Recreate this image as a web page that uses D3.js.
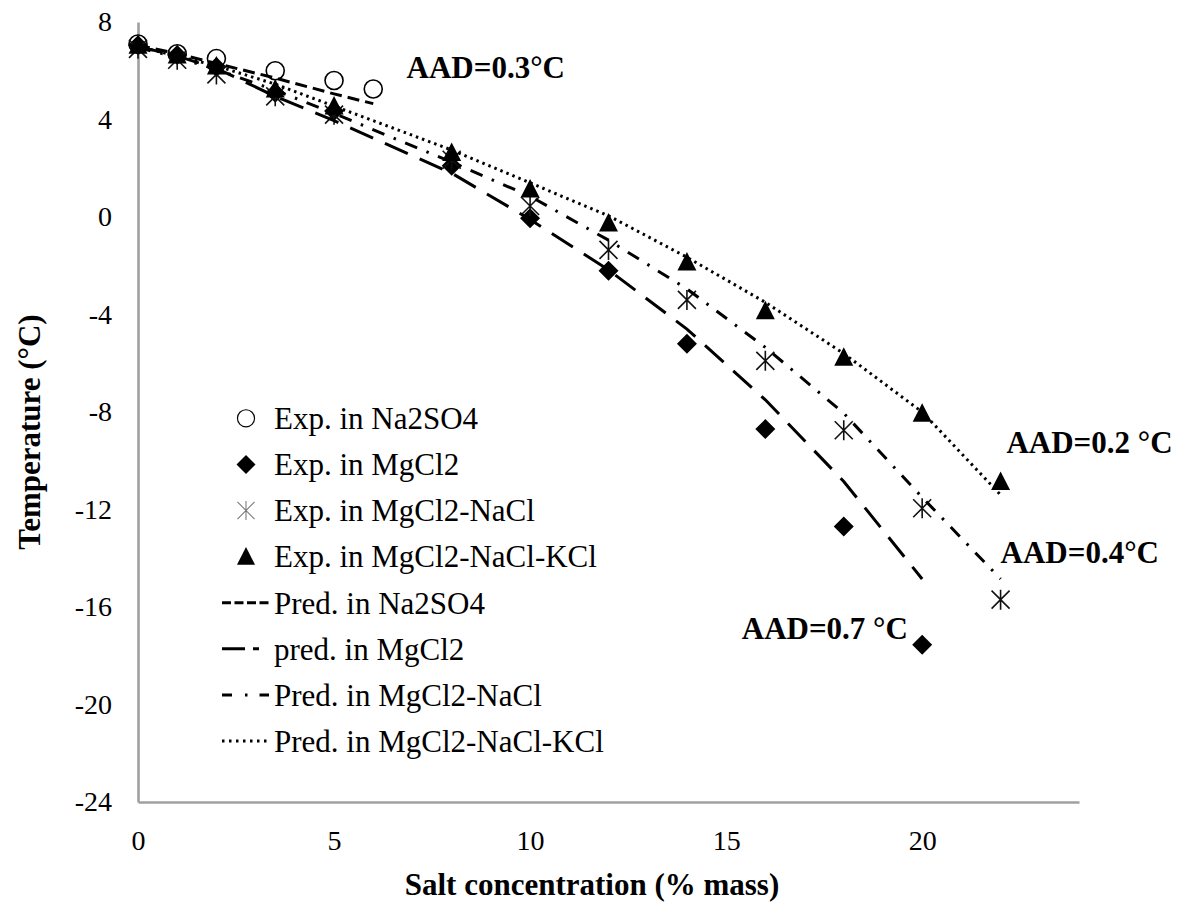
<!DOCTYPE html>
<html>
<head>
<meta charset="utf-8">
<script src="https://cdn.jsdelivr.net/npm/d3@7"></script>
<style>
  html, body { margin: 0; padding: 0; background: #fff; }
  svg { display: block; }
  svg text { font-family: "Liberation Serif", "Tinos", "Times New Roman", "DejaVu Serif", serif !important; fill: #000; }
</style>
</head>
<body>
<svg id="chart" width="1181" height="902"></svg>
<script>
// ---------- data ----------
const xNa = [0, 1, 2, 3.5, 5, 6];
const expNa = [7.1, 6.7, 6.5, 6.0, 5.6, 5.25];
const predNa = [7.05, 6.7, 6.3, 5.7, 5.05, 4.65];

const xMg = [0, 1, 2, 3.5, 5, 8, 10, 12, 14, 16, 18, 20];
const expMg = [7.05, 6.65, 6.15, 5.1, 4.35, 2.1, -0.05, -2.2, -5.2, -8.7, -12.7, -17.55];
const predMg = [7.0, 6.6, 6.1, 4.95, 3.95, 1.8, -0.1, -2.17, -4.6, -7.5, -10.85, -14.85];

const xMgNa = [0, 1, 2, 3.5, 5, 8, 10, 12, 14, 16, 18, 20, 22];
const expMgNa = [6.9, 6.45, 5.85, 4.95, 4.2, 2.35, 0.45, -1.35, -3.4, -5.9, -8.75, -11.95, -15.7];
const predMgNa = [6.95, 6.55, 6.05, 5.2, 4.25, 2.25, 0.85, -0.95, -2.95, -5.35, -8.05, -11.5, -14.85];

const xK = [0, 1, 2, 3.5, 5, 8, 10, 12, 14, 16, 18, 20, 22];
const expK = [7.05, 6.65, 6.2, 5.25, 4.55, 2.65, 1.15, -0.25, -1.85, -3.85, -5.75, -8.05, -10.85];
const predK = [7.0, 6.6, 6.2, 5.45, 4.55, 2.75, 1.4, 0.05, -1.65, -3.5, -5.6, -8.0, -11.4];

const xTicks = [0, 5, 10, 15, 20];
const yTicks = [8, 4, 0, -4, -8, -12, -16, -20, -24];

const legendExp = ["Exp. in Na2SO4", "Exp. in MgCl2", "Exp. in MgCl2-NaCl", "Exp. in MgCl2-NaCl-KCl"];
const legendPred = ["Pred. in Na2SO4", "pred. in MgCl2", "Pred. in MgCl2-NaCl", "Pred. in MgCl2-NaCl-KCl"];

const aadLabels = [
  { text: "AAD=0.3°C", x: 6.85, y: 5.7 },
  { text: "AAD=0.2 °C", x: 22.15, y: -9.7 },
  { text: "AAD=0.4°C", x: 22.0, y: -14.2 },
  { text: "AAD=0.7 °C", x: 15.4, y: -17.3 }
];

// ---------- scales ----------
const svg = d3.select("#chart");
const x = d3.scaleLinear().domain([0, 24]).range([138, 1079]);
const y = d3.scaleLinear().domain([-24, 8]).range([802, 22]);

const serif = '"Liberation Serif", "Tinos", "Times New Roman", "DejaVu Serif", serif';

// ---------- axes ----------
const axisColor = "#a0a0a0";
const fmt = d => String(d);
const gx = svg.append("g").attr("transform", `translate(0,${y(-24)})`)
  .call(d3.axisBottom(x).tickValues(xTicks).tickSize(0).tickPadding(28).tickFormat(fmt));
const gy = svg.append("g").attr("transform", `translate(${x(0)},0)`)
  .call(d3.axisLeft(y).tickValues(yTicks).tickSize(0).tickPadding(26).tickFormat(fmt));
[gx, gy].forEach(g => {
  g.attr("font-family", serif);
  g.select(".domain").attr("stroke", axisColor).attr("stroke-width", 2.6);
  g.selectAll("text").attr("font-size", 28).attr("font-family", serif).attr("fill", "#000");
});

// axis titles
svg.append("text").attr("x", 592).attr("y", 895).attr("text-anchor", "middle")
  .attr("font-family", serif).attr("font-size", 31).attr("font-weight", "bold").text("Salt concentration (% mass)");
svg.append("text").attr("transform", "translate(40,432) rotate(-90)").attr("text-anchor", "middle")
  .attr("font-family", serif).attr("font-size", 31).attr("font-weight", "bold").text("Temperature (°C)");

// ---------- lines ----------
const zip = (xs, ys) => xs.map((v, i) => [v, ys[i]]);
const line = d3.line().x(d => x(d[0])).y(d => y(d[1]));
const lineStyles = [
  { data: zip(xNa, predNa), dash: "12,6", w: 3, legDash: "9,3.5" },
  { data: zip(xMg, predMg), dash: "25,13", w: 3, legDash: "23,8,6,100" },
  { data: zip(xMgNa, predMgNa), dash: "13,10,2.5,10", w: 3, legDash: "10,13,2.5,12,10,100" },
  { data: zip(xK, predK), dash: "2.5,4", w: 3, legDash: "2.5,4.5" }
];

// ---------- markers ----------
const markerPath = {
  circle: "M-9,0A9,9 0 1,0 9,0A9,9 0 1,0 -9,0Z",
  diamond: "M0,-10L10,0L0,10L-10,0Z",
  star: "M-9,-9L9,9M-9,9L9,-9M0,-10L0,10",
  triangle: "M0,-10L9.5,8.5L-9.5,8.5Z"
};
const markerStyle = {
  circle: { fill: "none", stroke: "#000", sw: 1.6 },
  diamond: { fill: "#000", stroke: "none", sw: 0 },
  star: { fill: "none", stroke: "#111", sw: 1.6 },
  triangle: { fill: "#000", stroke: "none", sw: 0 }
};
const expSeries = [
  { type: "circle", data: zip(xNa, expNa) },
  { type: "diamond", data: zip(xMg, expMg) },
  { type: "star", data: zip(xMgNa, expMgNa) },
  { type: "triangle", data: zip(xK, expK) }
];

expSeries.forEach(s => {
  const st = markerStyle[s.type];
  svg.append("g").selectAll("path").data(s.data).join("path")
    .attr("transform", d => `translate(${x(d[0])},${y(d[1])})`)
    .attr("d", markerPath[s.type])
    .attr("fill", st.fill).attr("stroke", st.stroke).attr("stroke-width", st.sw);
});

lineStyles.forEach(s => {
  svg.append("path").datum(s.data).attr("d", line)
    .attr("fill", "none").attr("stroke", "#000").attr("stroke-width", s.w)
    .attr("stroke-dasharray", s.dash);
});

// ---------- AAD labels ----------
svg.append("g").selectAll("text").data(aadLabels).join("text")
  .attr("x", d => x(d.x)).attr("y", d => y(d.y))
  .attr("font-family", serif).attr("font-size", 31).attr("font-weight", "bold").text(d => d.text);

// ---------- legend ----------
const legX = 222, legTextX = 274, legY0 = 418.3, legStep = 46.1;
const lg = svg.append("g");
legendExp.forEach((t, i) => {
  const yy = legY0 + i * legStep;
  const type = expSeries[i].type;
  const st = markerStyle[type];
  lg.append("path").attr("transform", `translate(246,${yy}) scale(0.95)`)
    .attr("d", markerPath[type])
    .attr("fill", st.fill)
    .attr("stroke", type === "star" ? "#777" : st.stroke)
    .attr("stroke-width", type === "star" ? 1.1 : (type === "circle" ? 1.2 : 0));
  lg.append("text").attr("x", legTextX).attr("y", yy).attr("dy", "0.35em")
    .attr("font-family", serif).attr("font-size", 31).text(t);
});
legendPred.forEach((t, i) => {
  const yy = legY0 + (i + 4) * legStep;
  lg.append("line").attr("x1", legX).attr("x2", 269).attr("y1", yy).attr("y2", yy)
    .attr("stroke", "#000").attr("stroke-width", 3).attr("stroke-dasharray", lineStyles[i].legDash);
  lg.append("text").attr("x", legTextX).attr("y", yy).attr("dy", "0.35em")
    .attr("font-family", serif).attr("font-size", 31).text(t);
});
</script>
</body>
</html>
